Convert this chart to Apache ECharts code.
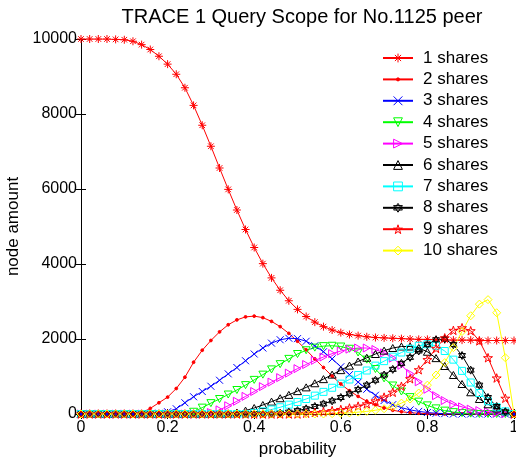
<!DOCTYPE html>
<html lang="en">
<head>
  <meta charset="UTF-8">
  <title>TRACE 1 Query Scope for No.1125 peer</title>
  <script src="https://cdn.jsdelivr.net/npm/echarts@6/dist/echarts.min.js"></script>
  <style>
    * { margin: 0; padding: 0; }
    html, body { width: 100%; height: 100%; background: #fff; }
    #chart { width: 516px; height: 459px; }
  </style>
</head>
<body>
<div id="chart"></div>
<script>
  // probability values (x axis)
  var prob = [0, 0.02, 0.04, 0.06, 0.08, 0.1, 0.12, 0.14, 0.16, 0.18,
    0.2, 0.22, 0.24, 0.26, 0.28, 0.3, 0.32, 0.34, 0.36, 0.38,
    0.4, 0.42, 0.44, 0.46, 0.48, 0.5, 0.52, 0.54, 0.56, 0.58,
    0.6, 0.62, 0.64, 0.66, 0.68, 0.7, 0.72, 0.74, 0.76, 0.78,
    0.8, 0.82, 0.84, 0.86, 0.88, 0.9, 0.92, 0.94, 0.96, 0.98, 1]

  var share1 = [10000, 10000, 10000, 10000, 9990, 9980, 9940, 9850, 9720, 9540,
    9330, 9060, 8700, 8230, 7700, 7140, 6560, 5990, 5440, 4920,
    4440, 4010, 3630, 3300, 3020, 2790, 2600, 2450, 2330, 2240,
    2170, 2120, 2090, 2060, 2040, 2030, 2020, 2010, 2000, 1990,
    1990, 1980, 1980, 1970, 1970, 1970, 1960, 1960, 1960, 1960, 1960]
  var share2 = [0, 0, 0, 0, 0, 0, 0, 30, 150, 300,
    450, 680, 980, 1380, 1700, 1960, 2190, 2380, 2510, 2590,
    2610, 2570, 2470, 2330, 2150, 1940, 1710, 1470, 1240, 1010,
    800, 620, 470, 340, 240, 160, 100, 60, 35, 20,
    10, 5, 0, 0, 0, 0, 0, 0, 0, 0, 0]
  var share3 = [0, 0, 0, 0, 0, 0, 0, 0, 0, 20,
    60, 140, 300, 460, 600, 740, 900, 1070, 1240, 1420,
    1600, 1760, 1890, 1980, 2020, 2010, 1940, 1820, 1660, 1470,
    1260, 1050, 850, 660, 500, 360, 250, 170, 110, 70,
    40, 20, 10, 0, 0, 0, 0, 0, 0, 0, 0]
  var share4 = [0, 0, 0, 0, 0, 0, 0, 0, 0, 0,
    0, 0, 0, 60, 170, 290, 400, 520, 640, 770,
    910, 1050, 1190, 1330, 1470, 1600, 1700, 1770, 1810, 1820,
    1800, 1740, 1640, 1450, 1200, 950, 760, 600, 450, 330,
    230, 150, 90, 50, 25, 10, 0, 0, 0, 0, 0]
  var share5 = [0, 0, 0, 0, 0, 0, 0, 0, 0, 0,
    0, 0, 0, 0, 0, 40, 110, 220, 340, 470,
    600, 730, 850, 970, 1090, 1210, 1320, 1430, 1520, 1610,
    1680, 1730, 1760, 1760, 1720, 1630, 1490, 1300, 1080, 860,
    660, 490, 360, 260, 190, 130, 90, 60, 30, 10, 0]
  var share6 = [0, 0, 0, 0, 0, 0, 0, 0, 0, 0,
    0, 0, 0, 0, 0, 0, 0, 0, 40, 90,
    160, 240, 330, 420, 510, 610, 710, 820, 930, 1050,
    1170, 1290, 1400, 1500, 1600, 1690, 1760, 1800, 1800, 1760,
    1660, 1490, 1280, 1040, 800, 580, 400, 260, 150, 70, 0]
  var share7 = [0, 0, 0, 0, 0, 0, 0, 0, 0, 0,
    0, 0, 0, 0, 0, 0, 0, 0, 0, 0,
    30, 70, 120, 180, 250, 320, 400, 490, 590, 700,
    810, 920, 1040, 1160, 1290, 1410, 1530, 1640, 1740, 1820,
    1860, 1820, 1680, 1450, 1150, 840, 560, 340, 180, 70, 0]
  var share8 = [0, 0, 0, 0, 0, 0, 0, 0, 0, 0,
    0, 0, 0, 0, 0, 0, 0, 0, 0, 0,
    0, 0, 0, 20, 50, 90, 140, 200, 270, 350,
    440, 540, 650, 770, 900, 1040, 1190, 1350, 1510, 1680,
    1850, 1980, 2000, 1850, 1560, 1170, 770, 440, 200, 60, 0]
  var share9 = [0, 0, 0, 0, 0, 0, 0, 0, 0, 0,
    0, 0, 0, 0, 0, 0, 0, 0, 0, 0,
    0, 0, 0, 0, 0, 0, 20, 40, 60, 90,
    120, 160, 210, 270, 350, 450, 580, 740, 940, 1180,
    1450, 1750, 2030, 2230, 2300, 2220, 1950, 1500, 960, 420, 0]
  var share10 = [0, 0, 0, 0, 0, 0, 0, 0, 0, 0,
    0, 0, 0, 0, 0, 0, 0, 0, 0, 0,
    0, 0, 0, 0, 0, 0, 0, 0, 0, 10,
    20, 30, 50, 70, 100, 140, 200, 290, 400, 560,
    770, 1040, 1370, 1770, 2200, 2620, 2930, 3050, 2700, 1500, 0]

  var names = ['1 shares', '2 shares', '3 shares', '4 shares', '5 shares',
    '6 shares', '7 shares', '8 shares', '9 shares', '10 shares']
  var values = [share1, share2, share3, share4, share5, share6, share7, share8, share9, share10]

  // matlab style markers
  var markers = [
    { color: '#ff0000', size: 8, path: 'M4,0 L4,8 M0,4 L8,4 M1.2,1.2 L6.8,6.8 M1.2,6.8 L6.8,1.2' },
    { color: '#ff0000', size: 8, path: 'M0,0 M8,8 M2.6,4 A1.4,1.4 0 1,0 5.4,4 A1.4,1.4 0 1,0 2.6,4 Z', fill: true },
    { color: '#0000ff', size: 7, path: 'M0,0 L8,8 M0,8 L8,0' },
    { color: '#00ff00', size: 8, path: 'M0,0 L8,0 L4,7 Z' },
    { color: '#ff00ff', size: 8, path: 'M0,0 L7,4 L0,8 Z' },
    { color: '#000000', size: 8, path: 'M4,0 L8,7 L0,7 Z' },
    { color: '#00ffff', size: 7, path: 'M0,0 L8,0 L8,8 L0,8 Z' },
    { color: '#000000', size: 8, path: 'M4,0 L7.46,6 L0.54,6 Z M4,8 L0.54,2 L7.46,2 Z' },
    { color: '#ff0000', size: 9, path: 'M4,0 L4.9,2.76 L7.8,2.76 L5.455,4.47 L6.35,7.24 L4,5.53 L1.65,7.24 L2.545,4.47 L0.2,2.76 L3.1,2.76 Z' },
    { color: '#ffff00', size: 8, path: 'M4,0 L8,4 L4,8 L0,4 Z' }
  ]

  function markerStyle(m) {
    return { color: m.fill ? m.color : 'rgba(0,0,0,0)', borderColor: m.color, borderWidth: 1 }
  }

  var series = names.map(function (name, i) {
    var m = markers[i]
    return {
      name: name,
      type: 'line',
      xAxisIndex: 0,
      yAxisIndex: 0,
      data: prob.map(function (p, j) { return [p, values[i][j]] }),
      symbol: 'path://' + m.path,
      symbolSize: m.size,
      symbolKeepAspect: true,
      lineStyle: { color: m.color, width: 1 },
      itemStyle: markerStyle(m),
      emphasis: { disabled: true }
    }
  })

  var legendData = names.map(function (name, i) {
    return { name: name, itemStyle: markerStyle(markers[i]) }
  })

  var font = 'Liberation Sans, Arial, sans-serif'

  var chart = echarts.init(document.getElementById('chart'))
  var option = {
    animation: false,
    backgroundColor: '#fff',
    title: {
      text: 'TRACE 1 Query Scope for No.1125 peer',
      left: 297,
      textAlign: 'center',
      top: 2,
      textStyle: { fontFamily: font, fontSize: 20, fontWeight: 'normal', color: '#000' }
    },
    legend: {
      orient: 'vertical',
      left: 382,
      top: 49.5,
      padding: 0,
      itemWidth: 30,
      itemHeight: 11,
      itemGap: 4.4,
      data: legendData,
      textStyle: { fontFamily: font, fontSize: 17, color: '#000', padding: [0, 0, 0, 5] }
    },
    grid: { left: 81, right: 2, top: 39, bottom: 45, outerBoundsMode: 'none' },
    xAxis: [{
      type: 'value',
      min: 0, max: 1, interval: 0.2,
      name: 'probability',
      nameLocation: 'middle',
      nameGap: 24,
      nameTextStyle: { fontFamily: font, fontSize: 17, color: '#000' },
      axisLine: { lineStyle: { color: '#000', width: 1 } },
      axisTick: { inside: true, length: 5, lineStyle: { color: '#000' } },
      axisLabel: { fontFamily: font, fontSize: 16, color: '#000', margin: 6 },
      splitLine: { show: false }
    }, {
      type: 'value',
      position: 'top',
      min: 0, max: 1, interval: 0.2,
      axisLine: { show: true, lineStyle: { color: '#000', width: 1 } },
      axisTick: { inside: true, length: 5, lineStyle: { color: '#000' } },
      axisLabel: { show: false },
      splitLine: { show: false }
    }],
    yAxis: [{
      type: 'value',
      min: 0, max: 10000, interval: 2000,
      name: 'node amount',
      nameLocation: 'middle',
      nameGap: 52,
      nameTextStyle: { fontFamily: font, fontSize: 17, color: '#000' },
      axisLine: { show: true, lineStyle: { color: '#000', width: 1 } },
      axisTick: { show: true, inside: true, length: 5, lineStyle: { color: '#000' } },
      axisLabel: { fontFamily: font, fontSize: 16, color: '#000', margin: 4,
        formatter: function (v) { return String(v) } },
      splitLine: { show: false }
    }, {
      type: 'value',
      position: 'right',
      min: 0, max: 10000, interval: 2000,
      axisLine: { show: true, lineStyle: { color: '#000', width: 1 } },
      axisTick: { show: true, inside: true, length: 5, lineStyle: { color: '#000' } },
      axisLabel: { show: false },
      splitLine: { show: false }
    }],
    series: series
  }
  chart.setOption(option)
</script>
</body>
</html>
